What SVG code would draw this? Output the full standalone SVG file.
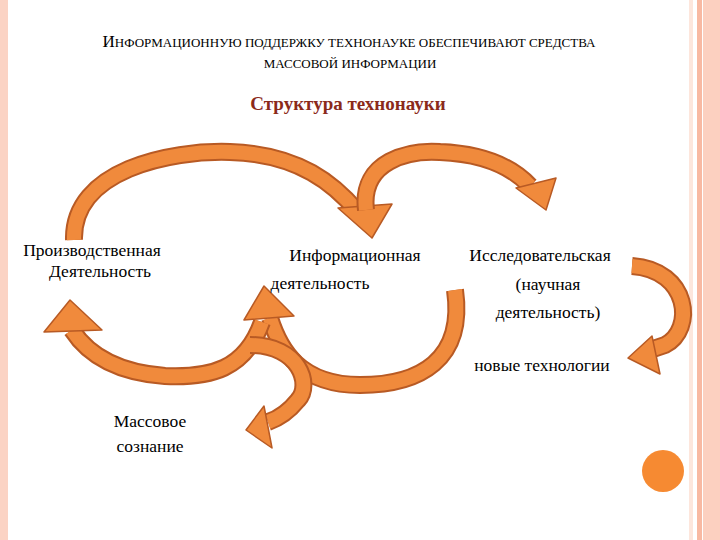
<svg xmlns="http://www.w3.org/2000/svg" width="720" height="540" viewBox="0 0 720 540">
<style>
.t{font-family:"Liberation Serif","DejaVu Serif",serif;font-size:17.5px;fill:#000}
.h{font-family:"Liberation Serif","DejaVu Serif",serif;fill:#000}
.bo{fill:none;stroke:#b85a24;stroke-width:18;stroke-linecap:butt}
.bi{fill:none;stroke:#f08a3c;stroke-width:14;stroke-linecap:butt}
.hd{fill:#f08a3c;stroke:#b85a24;stroke-width:1.5;stroke-linejoin:round}
</style>
<rect width="720" height="540" fill="#fff"/>
<rect x="0" y="0" width="8" height="540" fill="#fbd3c4"/>
<rect x="689" y="0" width="4" height="540" fill="#fde6dc"/>
<rect x="697" y="0" width="5" height="540" fill="#f8b9a2"/>
<rect x="703" y="0" width="17" height="540" fill="#fcd0c0"/>
<circle cx="663" cy="471" r="21" fill="#f68a32"/>
<g id="title">
<text class="h" x="349" y="47" text-anchor="middle"><tspan font-size="17">И</tspan><tspan font-size="13">НФОРМАЦИОННУЮ ПОДДЕРЖКУ ТЕХНОНАУКЕ ОБЕСПЕЧИВАЮТ СРЕДСТВА</tspan></text>
<text class="h" x="350" y="68" text-anchor="middle" font-size="13">МАССОВОЙ ИНФОРМАЦИИ</text>
<text x="348" y="110" text-anchor="middle" font-family="Liberation Serif,DejaVu Serif,serif" font-weight="bold" font-size="19" fill="#8b2a1a">Структура технонауки</text>
</g>
<g id="connectors">
<path class="bo" d="M74 240 C72 170 170 150 230 152 C300 154 335 185 358 212"/>
<path class="bi" d="M74 240 C72 170 170 150 230 152 C300 154 335 185 358 212"/>
<polygon class="hd" points="338,208 392,204 372,238"/>
<path class="bo" d="M366 210 C360 160 410 150 440 152 C490 154 515 170 530 186"/>
<path class="bi" d="M366 210 C360 160 410 150 440 152 C490 154 515 170 530 186"/>
<polygon class="hd" points="516,188 556,178 546,210"/>
<path class="bo" d="M632 266 C690 270 695 330 665 345 L650 350"/>
<path class="bi" d="M632 266 C690 270 695 330 665 345 L650 350"/>
<polygon class="hd" points="652,336 660,374 628,358"/>
<path class="bo" d="M455 290 C465 360 420 385 360 385 C300 385 280 350 270 318"/>
<path class="bi" d="M455 290 C465 360 420 385 360 385 C300 385 280 350 270 318"/>
<polygon class="hd" points="244,320 294,316 264,286"/>
<path class="bo" d="M262 322 C245 370 210 378 165 376 C110 372 85 350 72 330"/>
<path class="bi" d="M262 322 C245 370 210 378 165 376 C110 372 85 350 72 330"/>
<polygon class="hd" points="44,332 102,330 70,300"/>
<path class="bo" d="M250 345 C300 345 312 385 298 400 C290 410 280 418 268 422"/>
<path class="bi" d="M250 345 C300 345 312 385 298 400 C290 410 280 418 268 422"/>
<polygon class="hd" points="264,406 272,448 246,430"/>
</g>
<g id="n1"><text class="t" x="92" y="256" text-anchor="middle">Производственная</text><text class="t" x="100" y="277" text-anchor="middle">Деятельность</text></g>
<g id="n2"><text class="t" x="355" y="261" text-anchor="middle">Информационная</text><text class="t" x="320" y="289" text-anchor="middle">деятельность</text></g>
<g id="n3"><text class="t" x="540" y="261" text-anchor="middle">Исследовательская</text><text class="t" x="548" y="290" text-anchor="middle">(научная</text><text class="t" x="548" y="318" text-anchor="middle">деятельность)</text></g>
<g id="n4"><text class="t" x="542" y="371" text-anchor="middle">новые  технологии</text></g>
<g id="n5"><text class="t" x="150" y="427" text-anchor="middle">Массовое</text><text class="t" x="150" y="452" text-anchor="middle">сознание</text></g>
</svg>
